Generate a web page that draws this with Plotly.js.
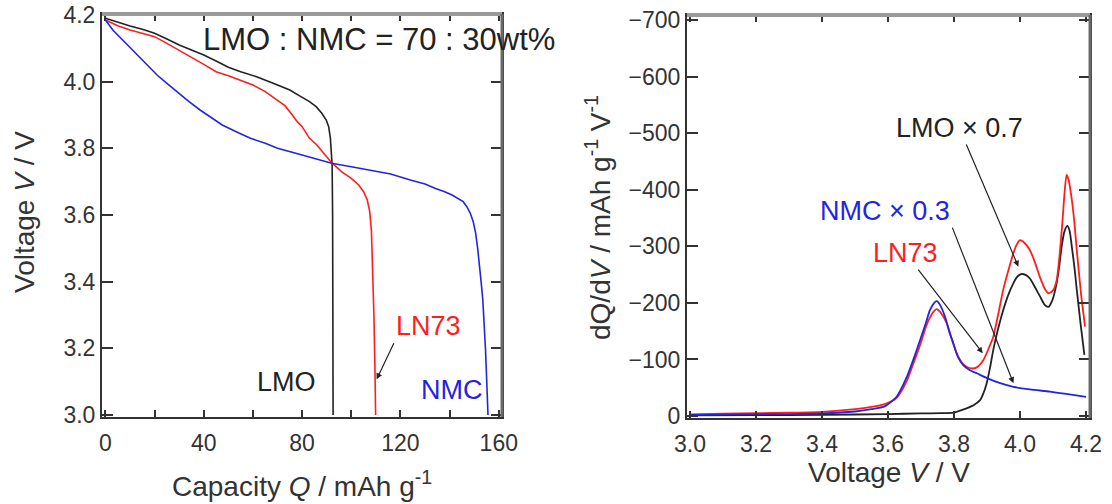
<!DOCTYPE html>
<html>
<head>
<meta charset="utf-8">
<script src="https://cdn.plot.ly/plotly-3.0.1.min.js"></script>
<style>
  html, body { margin: 0; padding: 0; background: #ffffff; }
  #chart { width: 1112px; height: 504px; }
</style>
</head>
<body>
<div id="chart"></div>
<script>
// ---------- Left panel: discharge curves (Capacity Q vs Voltage V) ----------
const lmoCapacity = [0, 5, 10, 15, 20, 25, 30, 35, 40, 45, 50, 55, 61.5, 70, 75, 79.5, 83, 85.7, 88, 89.8, 90.8, 91.5, 91.9, 92.2, 92.4, 92.5, 92.6];
const lmoVoltage  = [4.19, 4.178, 4.167, 4.157, 4.145, 4.128, 4.11, 4.095, 4.08, 4.062, 4.043, 4.03, 4.015, 3.99, 3.975, 3.955, 3.94, 3.925, 3.905, 3.885, 3.865, 3.83, 3.79, 3.75, 3.6, 3.3, 3.0];

const ln73Capacity = [0, 5, 10, 15, 20, 25, 30, 35, 40, 45, 50, 55, 60, 65, 70, 73, 76, 78, 80, 83, 86, 89, 92, 96, 100, 103, 105, 106.5, 107.5, 108.2, 108.7, 109.2, 109.6, 109.9];
const ln73Voltage  = [4.185, 4.168, 4.155, 4.145, 4.135, 4.115, 4.095, 4.073, 4.052, 4.03, 4.018, 4.005, 3.99, 3.97, 3.945, 3.928, 3.9, 3.88, 3.865, 3.83, 3.81, 3.785, 3.757, 3.73, 3.71, 3.69, 3.67, 3.645, 3.61, 3.55, 3.45, 3.3, 3.15, 3.0];

const nmcCapacity = [0, 3, 7, 11, 15.5, 21, 25, 29, 34, 38.5, 42.5, 47.5, 54.5, 59, 65, 70, 80, 92, 100, 110, 116, 124, 130, 134, 138, 141, 143.5, 145.5, 147, 148.4, 149.6, 150.6, 151.4, 152, 152.8, 153.5, 154.1, 154.6, 155.1, 155.6];
const nmcVoltage  = [4.185, 4.155, 4.125, 4.095, 4.06, 4.02, 3.995, 3.97, 3.94, 3.915, 3.895, 3.87, 3.845, 3.83, 3.815, 3.8, 3.78, 3.755, 3.745, 3.73, 3.723, 3.705, 3.693, 3.68, 3.67, 3.66, 3.65, 3.64, 3.625, 3.605, 3.58, 3.545, 3.5, 3.445, 3.4, 3.345, 3.27, 3.195, 3.1, 3.0];

// ---------- Right panel: dQ/dV curves ----------
const nmcDqdvVoltage = [3.0, 3.1, 3.2, 3.3, 3.4, 3.5, 3.55, 3.59, 3.626, 3.657, 3.68, 3.697, 3.715, 3.727, 3.74, 3.748, 3.758, 3.773, 3.785, 3.798, 3.812, 3.828, 3.848, 3.869, 3.9, 3.94, 3.98, 4.03, 4.09, 4.14, 4.2];
const nmcDqdv        = [-2, -2.5, -3, -3.5, -4.5, -8, -12, -17, -34, -69, -105, -134, -165, -187, -200, -203, -196, -175, -150, -128, -104, -90, -81, -75.5, -67, -58, -51.5, -47, -43, -39, -34];

const ln73DqdvVoltage = [3.0, 3.1, 3.2, 3.3, 3.4, 3.5, 3.55, 3.59, 3.626, 3.657, 3.68, 3.697, 3.715, 3.727, 3.74, 3.748, 3.758, 3.778, 3.793, 3.808, 3.823, 3.838, 3.855, 3.869, 3.889, 3.904, 3.919, 3.934, 3.949, 3.965, 3.98, 3.99, 4.0, 4.01, 4.03, 4.045, 4.06, 4.075, 4.086, 4.1, 4.111, 4.12, 4.128, 4.135, 4.141, 4.147, 4.157, 4.165, 4.172, 4.185, 4.197];
const ln73Dqdv        = [-3, -4, -5, -6, -7.5, -12, -16, -21, -32, -62, -98, -125, -158, -174, -186, -189, -184, -164, -137, -111, -95, -87, -84, -86, -99, -118, -140, -180, -223, -258, -288, -303, -311, -308, -293, -272, -246, -225, -217, -222, -240, -285, -340, -395, -426, -418, -382, -340, -293, -215, -158];

const lmoDqdvVoltage = [3.0, 3.2, 3.4, 3.6, 3.7, 3.76, 3.798, 3.838, 3.859, 3.879, 3.889, 3.899, 3.909, 3.919, 3.934, 3.949, 3.965, 3.98, 3.993, 4.005, 4.018, 4.03, 4.045, 4.061, 4.074, 4.086, 4.098, 4.111, 4.12, 4.126, 4.134, 4.143, 4.15, 4.157, 4.165, 4.172, 4.183, 4.195];
const lmoDqdv        = [-1, -1.5, -2, -3.5, -4.5, -5, -6, -13.5, -19, -28, -40, -58, -85, -117, -155, -187, -215, -235, -247, -251, -249, -243, -228, -211, -197, -193, -205, -235, -270, -299, -325, -336, -328, -299, -262, -223, -165, -108];

// Labels
const leftCurveLabels = ["LMO", "LN73", "NMC"];
const rightCurveLabels = ["LMO × 0.7", "NMC × 0.3", "LN73"];
const compositionLabel = "LMO : NMC = 70 : 30wt%";

const BLACK = "#222222", RED = "#ff1e1e", BLUE = "#2424e0";
const FONT = "Liberation Sans, Arial, Helvetica, sans-serif";

const traces = [
  {x: lmoCapacity, y: lmoVoltage, xaxis: "x", yaxis: "y", mode: "lines", line: {color: BLACK, width: 1.6}, name: "LMO"},
  {x: ln73Capacity, y: ln73Voltage, xaxis: "x", yaxis: "y", mode: "lines", line: {color: RED, width: 1.6}, name: "LN73"},
  {x: nmcCapacity, y: nmcVoltage, xaxis: "x", yaxis: "y", mode: "lines", line: {color: BLUE, width: 1.6}, name: "NMC"},
  {x: lmoDqdvVoltage, y: lmoDqdv, xaxis: "x2", yaxis: "y2", mode: "lines", line: {color: BLACK, width: 1.8, shape: "spline", smoothing: 0.6}, name: "LMO x0.7"},
  {x: ln73DqdvVoltage, y: ln73Dqdv, xaxis: "x2", yaxis: "y2", mode: "lines", line: {color: RED, width: 1.8, shape: "spline", smoothing: 0.6}, name: "LN73"},
  {x: nmcDqdvVoltage, y: nmcDqdv, xaxis: "x2", yaxis: "y2", mode: "lines", line: {color: BLUE, width: 1.8, shape: "spline", smoothing: 0.6}, name: "NMC x0.3"}
];

const tickFont = {family: FONT, size: 23, color: "#333333"};
const baseAxis = {
  showgrid: false, zeroline: false, showline: true, linecolor: "#333333", linewidth: 2,
  mirror: "allticks", ticks: "inside", tickcolor: "#333333", tickwidth: 2, tickfont: tickFont
};
const titleFont = {family: FONT, size: 28, color: "#333333"};
const labelFont = (c) => ({family: FONT, size: 27, color: c});
const arrowStyle = {showarrow: true, arrowhead: 2, arrowsize: 1, arrowwidth: 1.2, arrowcolor: "#222222", standoff: 0, startstandoff: 0};

const layout = {
  width: 1112, height: 504,
  margin: {l: 0, r: 0, t: 0, b: 0},
  paper_bgcolor: "#ffffff", plot_bgcolor: "#ffffff",
  showlegend: false,
  font: {family: FONT, color: "#333333"},
  xaxis: Object.assign({}, baseAxis, {
    domain: [102/1112, 502/1112], anchor: "y", range: [-1.4, 161.3],
    dtick: 40, tick0: 0, ticklen: 7, ticklabelstandoff: 4,
    minor: {dtick: 20, tick0: 0, ticks: "inside", ticklen: 7, tickwidth: 2, tickcolor: "#333333", showgrid: false}
  }),
  yaxis: Object.assign({}, baseAxis, {
    domain: [(504-417)/504, (504-14)/504], anchor: "x", range: [2.994, 4.203],
    dtick: 0.2, tick0: 3.0, tickformat: ".1f", ticklen: 11
  }),
  xaxis2: Object.assign({}, baseAxis, {
    domain: [687/1112, 1090/1112], anchor: "y2", range: [2.991, 4.212],
    dtick: 0.2, tick0: 3.0, tickformat: ".1f", ticklen: 7, ticklabelstandoff: 4
  }),
  yaxis2: Object.assign({}, baseAxis, {
    domain: [(504-418)/504, (504-15)/504], anchor: "x2", range: [3.5, -708.8],
    dtick: 100, tick0: 0, ticklen: 11
  }),
  shapes: [
    {type: "line", xref: "x domain", yref: "y domain", x0: 0, x1: 1, y0: 1, y1: 1, line: {color: "#9a9a9a", width: 4}, layer: "above"},
    {type: "line", xref: "x domain", yref: "y domain", x0: 1, x1: 1, y0: 0, y1: 1, line: {color: "#6a6a6a", width: 3}, layer: "above"},
    {type: "line", xref: "x2 domain", yref: "y2 domain", x0: 0, x1: 1, y0: 1, y1: 1, line: {color: "#9a9a9a", width: 4}, layer: "above"},
    {type: "line", xref: "x2 domain", yref: "y2 domain", x0: 1, x1: 1, y0: 0, y1: 1, line: {color: "#6a6a6a", width: 3}, layer: "above"}
  ],
  annotations: [
    // axis titles
    {xref: "paper", yref: "paper", x: 302/1112, y: 1 - 484/504, xanchor: "center", yanchor: "middle", showarrow: false,
     text: "Capacity <i>Q</i> / mAh g<sup>-1</sup>", font: titleFont},
    {xref: "paper", yref: "paper", x: 24/1112, y: 1 - 212/504, xanchor: "center", yanchor: "middle", showarrow: false, textangle: -90,
     text: "Voltage <i>V</i> / V", font: titleFont},
    {xref: "paper", yref: "paper", x: 889/1112, y: 1 - 472/504, xanchor: "center", yanchor: "middle", showarrow: false,
     text: "Voltage <i>V</i> / V", font: titleFont},
    {xref: "paper", yref: "paper", x: 598/1112, y: 1 - 218/504, xanchor: "center", yanchor: "middle", showarrow: false, textangle: -90,
     text: "dQ/d<i>V</i> / mAh g<sup>-1</sup> V<sup>-1</sup>", font: titleFont},
    // composition label
    {xref: "paper", yref: "paper", x: 379/1112, y: 1 - 40/504, xanchor: "center", yanchor: "middle", showarrow: false,
     text: compositionLabel, font: {family: FONT, size: 31, color: "#222222"}},
    // left curve labels
    {xref: "x", yref: "y", x: 73.8, y: 3.10, showarrow: false, text: leftCurveLabels[0], font: labelFont(BLACK)},
    Object.assign({xref: "x", yref: "y", x: 110.3, y: 3.107, axref: "x", ayref: "y", ax: 117.3, ay: 3.215,
     xanchor: "left", yanchor: "bottom", text: leftCurveLabels[1], font: labelFont(RED)}, arrowStyle),
    {xref: "x", yref: "y", x: 140.9, y: 3.075, showarrow: false, text: leftCurveLabels[2], font: labelFont(BLUE)},
    // right curve labels with arrows
    Object.assign({xref: "x2", yref: "y2", x: 3.995, y: -264, axref: "x2", ayref: "y2", ax: 3.816, ay: -509,
     text: rightCurveLabels[0], font: labelFont(BLACK)}, arrowStyle),
    Object.assign({xref: "x2", yref: "y2", x: 3.98, y: -58, axref: "x2", ayref: "y2", ax: 3.795, ay: -333,
     xanchor: "right", yanchor: "bottom", text: rightCurveLabels[1], font: labelFont(BLUE)}, arrowStyle),
    Object.assign({xref: "x2", yref: "y2", x: 3.887, y: -111, axref: "x2", ayref: "y2", ax: 3.653, ay: -288,
     text: rightCurveLabels[2], font: labelFont(RED)}, arrowStyle)
  ]
};

Plotly.newPlot("chart", traces, layout, {displayModeBar: false, staticPlot: true});
</script>
</body>
</html>
